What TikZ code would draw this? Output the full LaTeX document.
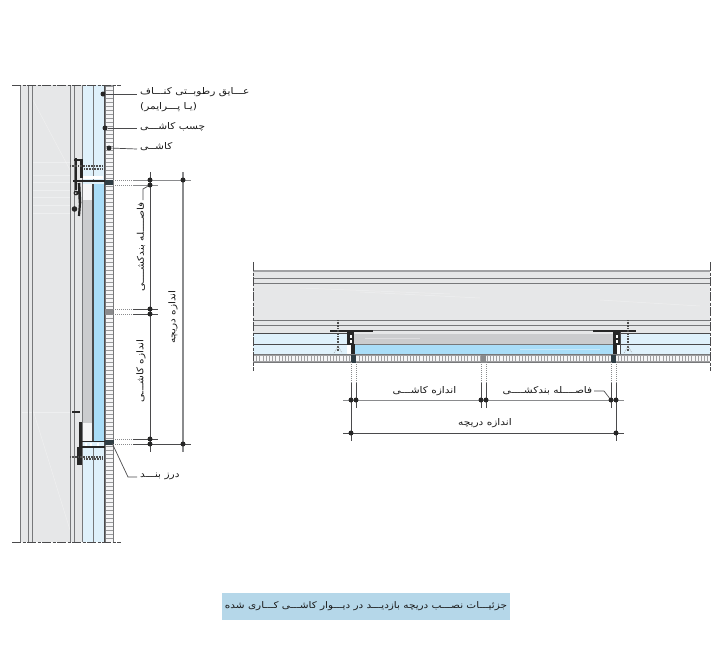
\documentclass[tikz,border=0pt]{standalone}
\usepackage{fontspec}
\TeXXeTstate=1
\newfontfamily\arabicfont[Script=Arabic,FakeStretch=1.15]{DejaVu Sans}
\definecolor{wallgray}{HTML}{E6E7E8}
\definecolor{lightblue}{HTML}{DFF1FB}
\definecolor{glassblue}{HTML}{A9DDF8}
\definecolor{panelgray}{HTML}{CBCCCE}
\definecolor{linegray}{HTML}{77787A}
\definecolor{dimgray}{HTML}{8A8B8D}
\definecolor{titleblue}{HTML}{B5D7E9}
\definecolor{darkline}{HTML}{4A4A4C}
\definecolor{jointdark}{HTML}{2F3D44}
\tikzset{
 wallline/.style={draw=linegray,line width=1pt},
 darkwall/.style={draw=darkline,line width=1pt},
 breakline/.style={draw=darkline,line width=0.7pt,dash pattern=on 9pt off 1.5pt on 3pt off 1.5pt},
 dimline/.style={draw=darkline,line width=0.75pt},
 dimlight/.style={draw=dimgray,line width=1.3pt},
 witness/.style={draw=dimgray,line width=0.4pt,dash pattern=on 1pt off 1pt},
 frame/.style={draw=black!85,line width=1.9pt},
 screw/.style={draw=black!70,line width=1.3pt,dash pattern=on 0.8pt off 0.8pt},
 leader/.style={draw=darkline,line width=0.7pt},
 dimdot/.style={circle,fill=black!85,inner sep=0pt,minimum size=5pt},
 lead dot/.style={circle,fill=black!85,inner sep=0pt,minimum size=5pt},
 label/.style={inner sep=0pt,font=\arabicfont\fontsize{9.2}{11}\selectfont,text=black!90},
 streak/.style={draw=white,line width=0.5pt,opacity=0.35},
}
\begin{document}
\begin{tikzpicture}[x=1pt,y=-1pt]
\useasboundingbox (0,0) rectangle (724,654);
% ===== left section =====
\fill[wallgray] (20,85) rectangle (82,542);
\fill[lightblue] (82,85) rectangle (105,542);
\foreach \y in {162,175,182,190,197,205,213}{\draw[streak] (33,\y) -- (70,\y);}
\draw[streak] (33,100) -- (70,170);
\draw[streak] (33,410) -- (70,530);
\draw[streak] (22,412) -- (70,412);
% tiles
\fill[panelgray!75!black] (105,85) rectangle (113,542);
\foreach \y in {87,91,...,540}{\fill[white!60!wallgray] (105.5,\y) rectangle (112.5,\y+2.9);}
\draw[wallline] (105,85) -- (105,542);
\draw[wallline] (113,85) -- (113,542);
% wall lines
\foreach \x in {20.5,28.5,32.5,70,74.5,82}{\draw[wallline] (\x,85) -- (\x,542);}
\draw[wallline] (93.5,85) -- (93.5,180);
\draw[wallline] (93.5,446) -- (93.5,542);
\draw[darkwall] (104,85) -- (104,542);
% access panel
\fill[white!60!wallgray] (82,184) rectangle (92,441);
\fill[panelgray] (82,200) rectangle (92,423);
\fill[glassblue] (94,184) rectangle (104,441);
\draw[wallline] (82,184) -- (82,441);
\draw[darkwall,line width=1.4pt] (92.8,184) -- (92.8,441);
\draw[darkwall] (104,184) -- (104,441);
% top frame
\fill[white] (83,176) rectangle (103,179);
\draw[frame,line width=2.8pt] (81.5,159) -- (81.5,178);
\draw[frame] (74,160) -- (81.5,160);
\draw[frame,line width=2.2pt] (76,158) -- (76,190);
\draw[frame,line width=2.8pt] (73,181) -- (105,181);
\draw[frame,line width=2.6pt] (79,183) -- (80,203);
\draw[frame,line width=2.2pt] (80,203) -- (79,216);
\fill[black!85] (74.5,209) circle (2.8pt);
\fill[black!85] (76,193) circle (2.4pt);
\fill[white] (75.8,193) circle (0.8pt);
\draw[screw] (70,166) -- (103,166);
\draw[screw] (84,169) -- (103,169);
% bottom frame
\draw[frame] (72,412) -- (80,412);
\draw[frame,line width=2.8pt] (80.5,422) -- (80.5,465);
\draw[frame,line width=2.8pt] (78.5,447) -- (78.5,465);
\draw[frame,line width=1.6pt] (82,441.5) -- (105,441.5);
\draw[frame,line width=1.4pt] (80,447) -- (105,447);
\foreach \x in {85,90,97}{\fill[white] (\x,443) rectangle (\x+2,445.5);}
\draw[screw] (70,457) -- (103,457);
\draw[screw] (84,459) -- (103,459);
% tile joints
\fill[jointdark] (105,180) rectangle (113,185);
\fill[dimgray] (105,309) rectangle (113,314.5);
\fill[jointdark] (105,439.5) rectangle (114,445);
% break lines
\draw[breakline] (12,85) -- (121,85);
\draw[breakline] (12,542) -- (121,542);
% witness lines
\foreach \y in {180,185,309,314,439,444}{\draw[witness] (113,\y) -- (133,\y);}
% dims
\coordinate (lvAtop) at (150,172);
\coordinate (lvAbot) at (150,452);
\coordinate (lvBtop) at (183,172);
\coordinate (lvBbot) at (183,452);
\draw[dimline] (lvAtop) -- (lvAbot);
\draw[dimlight] (lvBtop) -- (lvBbot);
\draw[dimlight,line width=0.8pt] (133,180) -- (191,180);
\draw[dimlight,line width=0.8pt] (133,185) -- (158,185);
\draw[dimline] (133,309) -- (158,309);
\draw[dimline] (133,314) -- (158,314);
\draw[dimline] (133,439) -- (158,439);
\draw[dimline] (133,444) -- (191,444);
\foreach \n/\x/\y in {a1/150/180,a2/183/180,a3/150/185,a4/150/309,a5/150/314,a6/150/439,a7/150/444,a8/183/444}{\node[dimdot] (\n) at (\x,\y) {};}
% left labels
\node[lead dot] (d1) at (103,94) {};
\node[lead dot] (d2) at (105,128) {};
\node[lead dot] (d3) at (109,148) {};
\node[label,anchor=west] (t1) at (140,92) {\beginR عـــایق رطوبــتی کنـــاف\endR};
\node[label,anchor=west] (t1b) at (140,107) {\beginR(یـا پـــرایمر)\endR};
\node[label,anchor=west] (t2) at (140,127) {\beginR چسب کاشـــی\endR};
\node[label,anchor=west] (t3) at (140,147) {\beginR کاشــی\endR};
\node[label,anchor=west] (t4) at (140,476) {\beginR درز بنـــد\endR};
\coordinate (k1) at (137,94);
\coordinate (k2) at (137,128);
\coordinate (k3) at (137,149);
\draw[leader] (d1) -- (k1);
\draw[leader] (d2) -- (k2);
\draw[leader] (d3) -- (k3);
\coordinate (jl) at (112,443);
\coordinate (jm) at (128,477);
\coordinate (je) at (137,477);
\draw[leader] (jl) -- (jm) -- (je);
\node[label,rotate=90] (t5) at (141,247) {\beginR فاصــــله بندکشــــی\endR};
\node[label,rotate=90] (t6) at (141,371) {\beginR اندازه کاشـــی\endR};
\node[label,rotate=90] (t7) at (173,317) {\beginR اندازه دریچه\endR};
\coordinate (h1) at (143,200);
\coordinate (h2) at (143,189);
\draw[leader] (h1) -- (h2) -- (a3);
% ===== right section =====
\fill[wallgray] (253,271) rectangle (710,333);
\fill[lightblue] (253,333) rectangle (710,354);
\fill[white] (347,333) rectangle (620,354);
\fill[wallgray] (354,330) rectangle (613,334);
\fill[panelgray] (354,334) rectangle (613,343.5);
\fill[glassblue] (354,345) rectangle (613,354);
\foreach \a/\b/\c in {300/450/288,360/480/292,600/700/300}{\draw[streak] (\a,\c) -- (\b,\c+6);}
\draw[streak] (365,338) -- (420,338);
\draw[streak] (520,349) -- (600,349);
% tile row
\fill[linegray!70] (253,354) rectangle (710,362);
\foreach \x in {254,257.2,...,709}{\fill[white!60!wallgray] (\x,355.5) rectangle (\x+2.2,361.3);}
\draw[wallline] (253,354.5) -- (710,354.5);
\draw[wallline] (253,362) -- (710,362);
% horizontal wall lines
\draw[draw=dimgray!80,line width=1.8pt] (253,271) -- (710,271);
\foreach \y in {278,283,320,325}{\draw[wallline] (253,\y) -- (710,\y);}
\draw[darkwall] (253,333) -- (347,333);
\draw[darkwall] (620,333) -- (710,333);
\draw[darkwall] (253,344) -- (347,344);
\draw[darkwall] (620,344) -- (710,344);
\draw[wallline,line width=0.8pt] (373,330) -- (593,330);
\draw[wallline,line width=0.8pt] (354,344) -- (613,344);
% right frame pieces
\draw[frame] (330,331) -- (373,331);
\draw[frame] (593,331) -- (636,331);
\fill[black!85] (347,332) rectangle (354,344.5);
\fill[black!85] (351,344) rectangle (355,354);
\fill[white] (347,344.5) rectangle (351,354);
\fill[black!85] (613,332) rectangle (620,344.5);
\fill[black!85] (613,344) rectangle (617,354);
\fill[white] (617,344.5) rectangle (620,354);
\draw[darkwall,line width=0.8pt] (620.3,332) -- (620.3,354);
\foreach \y in {335,340}{\fill[white] (350,\y) rectangle (352,\y+2.5);\fill[white] (616,\y) rectangle (618,\y+2.5);}
\draw[screw] (338,320) -- (338,351);
\draw[screw] (628,320) -- (628,351);
\draw[witness] (334,353) -- (338,346) -- (342,353);
\draw[witness] (624,353) -- (628,346) -- (632,353);
% joints
\fill[jointdark] (351,355) rectangle (356,362.5);
\fill[dimgray] (481,355) rectangle (486,362.5);
\fill[jointdark] (611,355) rectangle (616,362.5);
% break lines
\draw[breakline] (253,262) -- (253,371);
\draw[breakline] (710,262) -- (710,371);
% witnesses
\foreach \x in {351,356,481,486,611,616}{\draw[witness] (\x,362) -- (\x,383);}
% dims
\foreach \x in {356,481,486,611}{\draw[dimline] (\x,383) -- (\x,408);}
\draw[dimline] (351,383) -- (351,441);
\draw[dimline] (616,383) -- (616,441);
\draw[dimlight,line width=1pt] (343,400) -- (624,400);
\draw[dimline] (343,433) -- (624,433);
\foreach \n/\x/\y in {b1/351/400,b2/356/400,b3/481/400,b4/486/400,b5/611/400,b6/616/400,b7/351/433,b8/616/433}{\node[dimdot] (\n) at (\x,\y) {};}
\node[label] (r1) at (424.5,391) {\beginR اندازه کاشـــی\endR};
\node[label] (r2) at (547.5,391) {\beginR فاصــــله بندکشــــی\endR};
\node[label] (r3) at (485,423) {\beginR اندازه دریچه\endR};
\coordinate (r2k) at (604,391);
\coordinate (r2s) at (594,391);
\draw[leader] (r2s) -- (r2k) -- (b5);
% ===== title =====
\node[fill=titleblue,minimum width=288pt,minimum height=27pt,inner sep=0pt,font=\arabicfont\fontsize{9.1}{11}\selectfont,text=black!90] (title) at (366,606.5) {\beginR جزئیـــات نصـــب دریچه بازدیـــد در دیـــوار کاشـــی کـــاری شده\endR};
\end{tikzpicture}
\end{document}
